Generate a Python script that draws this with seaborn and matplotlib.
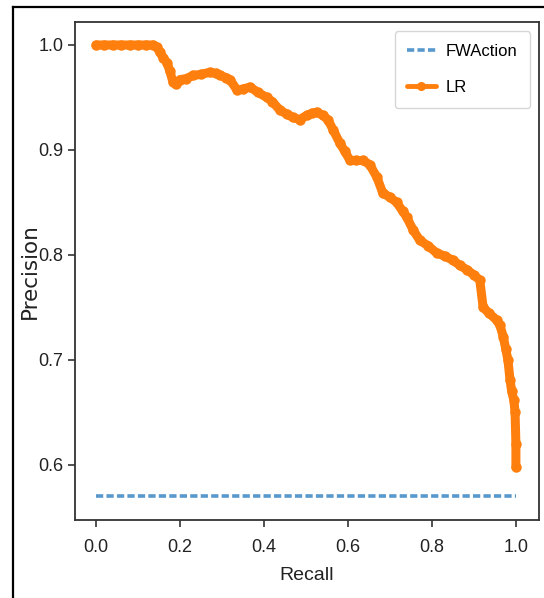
import matplotlib
matplotlib.use("Agg")
import matplotlib.pyplot as plt
from matplotlib.lines import Line2D
import pandas as pd
import seaborn as sns

# Precision-recall points of the logistic-regression model
recall = [0.000, 0.020, 0.040, 0.060, 0.080, 0.100, 0.120, 0.136, 0.145, 0.152,
          0.160, 0.169, 0.176, 0.183, 0.190, 0.200, 0.215, 0.231, 0.250, 0.271,
          0.285, 0.295, 0.310, 0.319, 0.336, 0.350, 0.367, 0.385, 0.407, 0.420,
          0.438, 0.455, 0.469, 0.485, 0.502, 0.515, 0.526, 0.540, 0.552, 0.565,
          0.580, 0.592, 0.605, 0.620, 0.636, 0.652, 0.669, 0.683, 0.700, 0.716,
          0.730, 0.740, 0.755, 0.771, 0.790, 0.811, 0.830, 0.850, 0.867, 0.883,
          0.900, 0.914, 0.922, 0.935, 0.954, 0.962, 0.970, 0.976, 0.981, 0.986,
          0.990, 0.995, 0.998, 1.000, 1.000]
precision = [1.000, 1.000, 1.000, 1.000, 1.000, 1.000, 1.000, 1.000, 0.998, 0.993,
             0.988, 0.983, 0.975, 0.965, 0.963, 0.967, 0.968, 0.971, 0.972, 0.974,
             0.973, 0.971, 0.969, 0.967, 0.957, 0.958, 0.960, 0.955, 0.950, 0.946,
             0.938, 0.934, 0.931, 0.929, 0.933, 0.935, 0.936, 0.933, 0.929, 0.919,
             0.907, 0.899, 0.890, 0.890, 0.890, 0.886, 0.874, 0.859, 0.855, 0.850,
             0.842, 0.836, 0.824, 0.814, 0.809, 0.802, 0.799, 0.795, 0.790, 0.786,
             0.781, 0.776, 0.750, 0.745, 0.738, 0.733, 0.722, 0.710, 0.700, 0.681,
             0.670, 0.662, 0.650, 0.620, 0.598]

# Baseline (positive class share)
baseline_recall = [0.0, 1.0]
baseline_precision = [0.5705, 0.5705]

series_names = ["FWAction", "LR"]

plt.rcParams["font.family"] = ["Liberation Sans", "DejaVu Sans"]

fig = plt.figure(figsize=(5.44, 5.98), dpi=100)
ax = fig.add_axes([75 / 544, 78 / 598, (539 - 75) / 544, (520 - 22) / 598])

base_df = pd.DataFrame({"Recall": baseline_recall, "Precision": baseline_precision})
lr_df = pd.DataFrame({"Recall": recall, "Precision": precision})

sns.lineplot(data=base_df, x="Recall", y="Precision", ax=ax, color="#3a87c4",
             linestyle=(0, (2.0, 0.9)), linewidth=2.6, alpha=0.85,
             label=series_names[0], estimator=None, sort=False)
sns.lineplot(data=lr_df, x="Recall", y="Precision", ax=ax, color="#ff7f0e",
             marker=".", markersize=11, markeredgewidth=2,
             markeredgecolor="#ff7f0e", markerfacecolor="#ff7f0e",
             linewidth=6.5, solid_joinstyle="round", solid_capstyle="round",
             label=series_names[1], estimator=None, sort=False)

ax.set_xlim(-0.05, 1.055)
ax.set_ylim(0.5476, 1.0219)
ax.set_xticks([0.0, 0.2, 0.4, 0.6, 0.8, 1.0])
ax.set_yticks([0.6, 0.7, 0.8, 0.9, 1.0])
ax.tick_params(labelsize=13, length=5, width=1.2, colors="#333333",
               labelcolor="#222222")
ax.tick_params(axis="x", pad=9)
for s in ax.spines.values():
    s.set_linewidth(1.3)
    s.set_color("#333333")

ax.set_xlabel("Recall", fontsize=14, color="#222222")
ax.xaxis.set_label_coords(0.5, -0.095)
ax.set_ylabel("Precision", fontsize=15.5, family="DejaVu Sans", color="#222222")
ax.yaxis.set_label_coords(-0.076, 0.5)

leg = ax.legend(loc="upper right", fontsize=12, handlelength=1.7,
                handletextpad=0.6, borderpad=0.75, labelspacing=1.3,
                framealpha=0.8, borderaxespad=0.55)
for h in leg.get_lines():
    if h.get_marker() == ".":
        h.set_linewidth(3.5)
        h.set_markersize(9)

# Outer frame around the figure
fig.add_artist(Line2D([13 / 544, 13 / 544], [0, 1 - 7 / 598], color="black",
                      linewidth=1.6, transform=fig.transFigure))
fig.add_artist(Line2D([13 / 544, 1], [1 - 7 / 598, 1 - 7 / 598], color="black",
                      linewidth=1.6, transform=fig.transFigure))

fig.savefig("out.png", dpi=100)
